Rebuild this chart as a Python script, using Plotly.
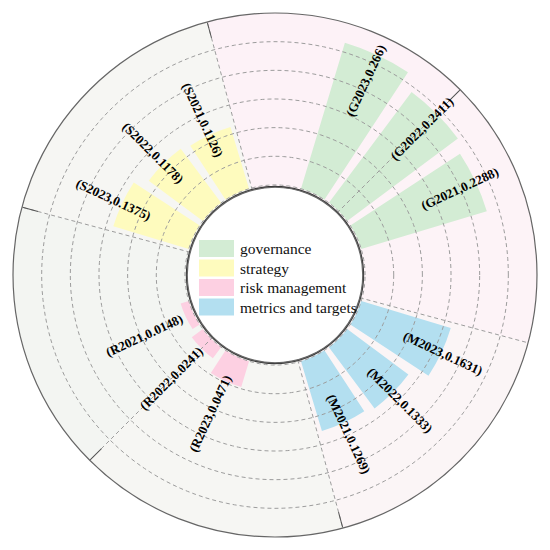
import math
import plotly.graph_objects as go

# categories and values
categories = ["governance", "strategy", "risk management", "metrics and targets"]
prefixes = ["G", "S", "R", "M"]
years = [2021, 2022, 2023]
governance = [0.2288, 0.2411, 0.266]
strategy = [0.1126, 0.1178, 0.1375]
risk_management = [0.0148, 0.0241, 0.0471]
metrics_targets = [0.1269, 0.1333, 0.1631]
values = [governance, strategy, risk_management, metrics_targets]

colors = ["#d3ecd4", "#fefbbe", "#fdd0e2", "#b3dff0"]
group_center = [45, 135, 225, 315]   # angle of the middle bar of each group
step = 20                            # degrees between bars in a group
bar_width = 16.5

sector_theta = [15, 75, 135, 195, 255, 315]
sector_colors = ["#fdf3f7", "#fdf2f7", "#f6f6f3", "#f3f5f2", "#f6f6f3", "#fbf5f6"]

R_MIN, R_MAX = -0.004, 0.3
HOLE = 0.335
W = 550
M = 13
PAGE = 8   # body margin of the html page
RPX = (W - 2 * M) / 2


def to_paper(r, theta):
    # polar data -> paper coords (plot area is square, centred)
    inner = HOLE * RPX
    rpx = inner + (r - R_MIN) / (R_MAX - R_MIN) * (RPX - inner)
    a = math.radians(theta)
    return 0.5 + rpx * math.cos(a) / (2 * RPX), 0.5 + rpx * math.sin(a) / (2 * RPX)


fig = go.Figure()

# background sectors
fig.add_trace(go.Barpolar(r=[R_MAX - R_MIN] * 6, base=R_MIN, theta=sector_theta, width=60,
                          marker=dict(color=sector_colors, line=dict(width=0)),
                          hoverinfo="skip", showlegend=False))

# dashed grid drawn above the background
circle_theta = [i * 2 for i in range(181)]
for g in [0, 0.05, 0.1, 0.15, 0.2, 0.25]:
    fig.add_trace(go.Scatterpolar(r=[g] * len(circle_theta), theta=circle_theta, mode="lines",
                                  line=dict(color="#9c9c9c", width=1, dash="4px,3px"),
                                  hoverinfo="skip", showlegend=False))
for a in range(45, 405, 60):
    fig.add_trace(go.Scatterpolar(r=[R_MIN, R_MAX], theta=[a % 360] * 2, mode="lines",
                                  line=dict(color="#9c9c9c", width=1, dash="4px,3px"),
                                  hoverinfo="skip", showlegend=False))

annotations = []
for k, cat in enumerate(categories):
    thetas = [group_center[k] + (i - 1) * step for i in range(3)]
    fig.add_trace(go.Barpolar(r=values[k], theta=thetas, width=bar_width, name=cat,
                              marker=dict(color=colors[k], line=dict(width=0)),
                              showlegend=False))
    for i, v in enumerate(values[k]):
        th = thetas[i]
        x, y = to_paper(0.087 + 0.49 * v, th)
        ang = -th if (th < 90 or th > 270) else 180 - th
        annotations.append(dict(x=x, y=y, xref="paper", yref="paper",
                                text="<b>(%s%d,%s)</b>" % (prefixes[k], years[i], v),
                                showarrow=False, textangle=ang, xanchor="center", yanchor="middle",
                                font=dict(family="Liberation Serif", size=13, color="black")))

# dark ring at the hole
fig.add_trace(go.Scatterpolar(r=[R_MIN + 0.0005] * len(circle_theta), theta=circle_theta, mode="lines",
                              line=dict(color="#3a3a3a", width=2.2), hoverinfo="skip", showlegend=False))

# legend in the middle
shapes = []
for k, cat in enumerate(categories):
    top = 240 + k * 19.5
    y0 = 1 - (top + 17 - M) / (W - 2 * M)
    y1 = 1 - (top - M) / (W - 2 * M)
    shapes.append(dict(type="rect", xref="paper", yref="paper",
                       x0=(199 - M) / (W - 2 * M), x1=(234 - M) / (W - 2 * M), y0=y0, y1=y1,
                       fillcolor=colors[k], line=dict(width=0)))
    annotations.append(dict(x=(238 - M) / (W - 2 * M), y=(y0 + y1) / 2, xref="paper", yref="paper",
                            text=cat, showarrow=False, xanchor="left", yanchor="middle",
                            font=dict(family="Liberation Serif", size=15.5, color="#111111")))

fig.update_layout(
    width=W, height=W,
    margin=dict(l=M - PAGE, r=M + PAGE, t=M - PAGE, b=M + PAGE),
    paper_bgcolor="white",
    showlegend=False,
    shapes=shapes,
    annotations=annotations,
    polar=dict(
        hole=HOLE,
        bgcolor="white",
        barmode="overlay",
        radialaxis=dict(range=[R_MIN, R_MAX], visible=False),
        angularaxis=dict(rotation=0, direction="counterclockwise", tickmode="linear",
                         tick0=45, dtick=60, showticklabels=False, ticks="inside", ticklen=16,
                         tickcolor="#555555", tickwidth=1, showgrid=False,
                         linecolor="#666666", linewidth=1.2),
    ),
)

fig.write_html("out.html")
